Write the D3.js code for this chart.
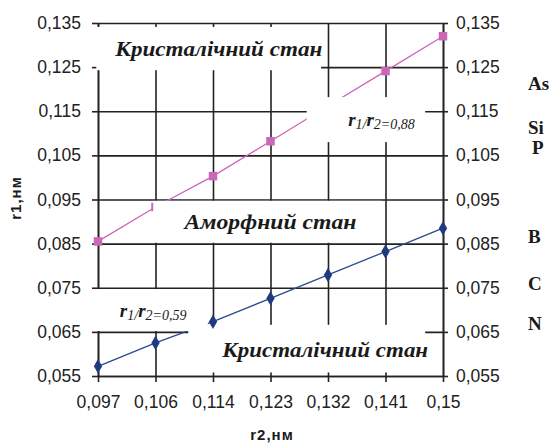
<!DOCTYPE html>
<html lang="uk">
<head>
<meta charset="utf-8">
<title>r1 vs r2</title>
<script src="https://d3js.org/d3.v7.min.js"></script>
<style>
  body { margin: 0; background: #fff; }
  svg text { fill: #1a1a1a; }
  .tick line { stroke: #222; stroke-width: 1.6; }
  .domain { stroke: #222; stroke-width: 1.6; }
  .grid .tick line { stroke: #222; stroke-width: 1.6; }
  .ax text { font-family: "Liberation Sans", Arial, sans-serif; font-size: 17.5px; fill: #222; }
  .note { font-family: "Liberation Serif", "Times New Roman", serif; font-style: italic; font-weight: bold; }
  .ratio { font-family: "Liberation Serif", "Times New Roman", serif; font-style: italic; font-weight: bold; }
  .elem { font-family: "Liberation Serif", "Times New Roman", serif; font-weight: bold; font-size: 19px; }
  .title { font-family: "Liberation Sans", Arial, sans-serif; font-weight: bold; font-size: 15px; letter-spacing: 1px; }
</style>
</head>
<body>
<div id="chart"></div>
<script>
// data
var r2Labels = ["0,097", "0,106", "0,114", "0,123", "0,132", "0,141", "0,15"];
var r1Pink = [0.0855, 0.0933, 0.1003, 0.1082, 0.1162, 0.1241, 0.132];   // r1/r2 = 0,88
var r1Blue = [0.0572, 0.0625, 0.0673, 0.0726, 0.0779, 0.0832, 0.0885];  // r1/r2 = 0,59
var yTicks = [0.055, 0.065, 0.075, 0.085, 0.095, 0.105, 0.115, 0.125, 0.135];
var elements = ["As", "Si", "P", "B", "C", "N"];
var elementR = [0.1214, 0.1114, 0.1069, 0.0867, 0.0761, 0.0670];

var W = 555, H = 444;
var pL = 98, pR = 443, pT = 23, pB = 376;

var svg = d3.select("#chart").append("svg").attr("width", W).attr("height", H);

var x = d3.scalePoint().domain(r2Labels).range([pL, pR]);
var xi = d3.scaleLinear().domain([0, r2Labels.length - 1]).range([pL, pR]); // fractional index for notes
var y = d3.scaleLinear().domain([0.055, 0.135]).range([pB, pT]);
var fmt = function (d) { return d3.format(".3f")(d).replace(".", ","); };

// grid
svg.append("g").attr("class", "grid")
  .attr("transform", "translate(" + pL + ",0)")
  .call(d3.axisLeft(y).tickValues(yTicks).tickSize(-(pR - pL)).tickFormat(""))
  .call(function (g) { g.select(".domain").remove(); });
svg.append("g").attr("class", "grid")
  .attr("transform", "translate(0," + pB + ")")
  .call(d3.axisBottom(x).tickSize(-(pB - pT)).tickFormat(""))
  .call(function (g) { g.select(".domain").remove(); });

// axes
svg.append("g").attr("class", "ax")
  .attr("transform", "translate(" + pL + ",0)")
  .call(d3.axisLeft(y).tickValues(yTicks).tickSize(6).tickSizeOuter(0).tickPadding(11).tickFormat(fmt));
svg.append("g").attr("class", "ax")
  .attr("transform", "translate(" + pR + ",0)")
  .call(d3.axisRight(y).tickValues(yTicks).tickSize(5).tickSizeOuter(0).tickPadding(8).tickFormat(fmt));
svg.append("g").attr("class", "ax")
  .attr("transform", "translate(0," + pB + ")")
  .call(d3.axisBottom(x).tickSize(6).tickSizeOuter(0).tickPadding(14));

// series lines
var line = d3.line().x(function (d, i) { return x(r2Labels[i]); }).y(function (d) { return y(d); });
svg.append("path").datum(r1Pink).attr("d", line)
  .attr("fill", "none").attr("stroke", "#cc66b8").attr("stroke-width", 1.3);
svg.append("path").datum(r1Blue).attr("d", line)
  .attr("fill", "none").attr("stroke", "#2a4a90").attr("stroke-width", 1.3);

svg.append("g").selectAll("path").data(r1Pink).join("path")
  .attr("d", d3.symbol(d3.symbolSquare, 72))
  .attr("transform", function (d, i) { return "translate(" + x(r2Labels[i]) + "," + y(d) + ")"; })
  .attr("fill", "#cc66b8");

// white label boxes (cover the grid like in the original)
var boxes = [
  { i0: -0.03, i1: 3.88, v0: 0.1341, v1: 0.1243 },
  { i0: 3.63, i1: 5.69, v0: 0.1182, v1: 0.1080 },
  { i0: 0.96, i1: 4.92, v0: 0.0947, v1: 0.0852 },
  { i0: -0.03, i1: 1.91, v0: 0.0747, v1: 0.0652 },
  { i0: 1.57, i1: 5.69, v0: 0.0666, v1: 0.0558 }
];
svg.append("g").selectAll("rect").data(boxes).join("rect")
  .attr("x", function (d) { return xi(d.i0); })
  .attr("y", function (d) { return y(d.v0); })
  .attr("width", function (d) { return xi(d.i1) - xi(d.i0); })
  .attr("height", function (d) { return y(d.v1) - y(d.v0); })
  .attr("fill", "#fff");

svg.append("g").selectAll("path").data(r1Blue).join("path")
  .attr("d", d3.symbol(d3.symbolDiamond, 60))
  .attr("transform", function (d, i) { return "translate(" + x(r2Labels[i]) + "," + y(d) + ")"; })
  .attr("fill", "#1f3a80");

// state labels
var states = [
  { t: "Кристалічний стан", i: 2.1, v: 0.1293, w: 207 },
  { t: "Аморфний стан", i: 3.0, v: 0.0899, w: 172 },
  { t: "Кристалічний стан", i: 3.95, v: 0.0609, w: 206 }
];
svg.append("g").selectAll("text").data(states).join("text")
  .attr("class", "note")
  .attr("x", function (d) { return xi(d.i); })
  .attr("y", function (d) { return y(d.v); })
  .attr("dy", "0.35em")
  .attr("text-anchor", "middle")
  .attr("textLength", function (d) { return d.w; })
  .attr("lengthAdjust", "spacingAndGlyphs")
  .style("font-size", "21px")
  .text(function (d) { return d.t; });

// ratio labels
var ratios = [
  { k: "0,88", i: 4.35, v: 0.1126 },
  { k: "0,59", i: 0.38, v: 0.0693 }
];
ratios.forEach(function (r) {
  var t = svg.append("text").attr("class", "ratio")
    .attr("x", xi(r.i)).attr("y", y(r.v) + 4).style("font-size", "19px");
  t.append("tspan").text("r");
  t.append("tspan").attr("dy", 3).style("font-size", "14px").style("font-weight", "normal").text("1/");
  t.append("tspan").attr("dy", -3).text("r");
  t.append("tspan").attr("dy", 3).style("font-size", "14px").style("font-weight", "normal").text("2=" + r.k);
});

// element symbols on the right
svg.append("g").selectAll("text").data(elements).join("text")
  .attr("class", "elem")
  .attr("x", function (d) { return d === "P" ? 532 : 528; })
  .attr("y", function (d, i) { return y(elementR[i]); })
  .attr("dy", "0.35em")
  .text(function (d) { return d; });

// axis titles
svg.append("text").attr("class", "title")
  .attr("transform", "translate(21,198) rotate(-90)")
  .attr("text-anchor", "middle")
  .text("r1,нм");
svg.append("text").attr("class", "title")
  .attr("x", 272).attr("y", 440)
  .attr("text-anchor", "middle")
  .text("r2,нм");
</script>
</body>
</html>
